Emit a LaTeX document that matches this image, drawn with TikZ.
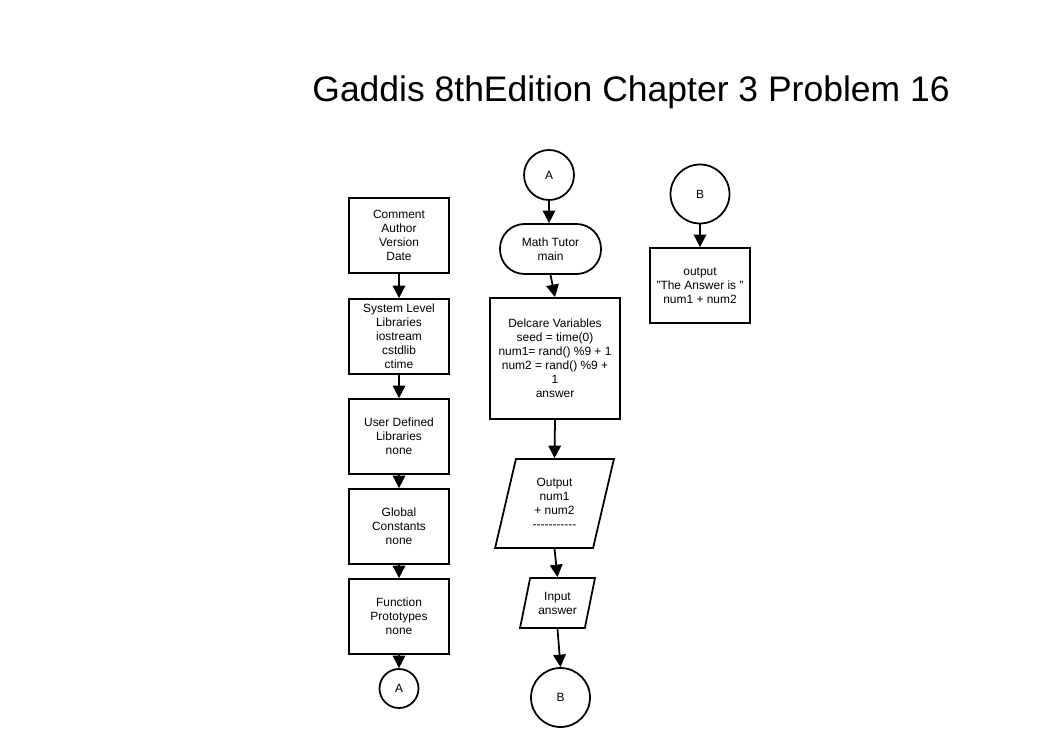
\documentclass[tikz,border=0pt]{standalone}
\usepackage{fontspec}
\setmainfont{Liberation Sans}
\usetikzlibrary{arrows.meta,shapes.geometric}
\tikzset{
    base/.style={font=\fontsize{6.8}{8}\selectfont, align=center,
    line width=1pt, inner sep=1pt},
    procbox/.style={base, draw, rectangle},
    terminal/.style={base, draw, rounded corners=0.49cm},
    connector/.style={base, draw, circle, inner sep=0pt},
    iobox/.style={base, draw, trapezium, trapezium stretches=true},
    flow/.style={line width=1pt, -{Triangle[width=0.25cm,length=0.25cm]}},
}
\begin{document}
\begin{tikzpicture}[x=0.02cm, y=-0.02cm]
            \useasboundingbox[fill=white] (0,0) rectangle (1050,749);
            % --- title ---
            \node[font=\fontsize{20.2}{24}\selectfont] (title) at (631,92) {Gaddis 8thEdition Chapter 3 Problem 16};
            % --- left column ---
            \node[procbox, minimum width=2cm, minimum height=1.5cm] (cmt) at (399,235.5) {Comment\\Author\\Version\\Date};
            \node[procbox, minimum width=2cm, minimum height=1.5cm] (syslib) at (399,336.5) {System Level\\Libraries\\iostream\\cstdlib\\ctime};
            \node[procbox, minimum width=2cm, minimum height=1.5cm] (usrlib) at (399,436.5) {User Defined\\Libraries\\none};
            \node[procbox, minimum width=2cm, minimum height=1.5cm] (glob) at (399,526.5) {Global\\Constants\\none};
            \node[procbox, minimum width=2cm, minimum height=1.5cm] (proto) at (399,616.5) {Function\\Prototypes\\none};
            \node[connector, minimum size=0.78cm] (conAa) at (399,688.5) {A};
            \draw[flow] (cmt) -- (syslib);
            \draw[flow] (syslib) -- (usrlib);
            \draw[flow] (usrlib) -- (glob);
            \draw[flow] (glob) -- (proto);
            \draw[flow] (proto) -- (conAa);
            % --- middle column ---
            \node[connector, minimum size=1cm] (conAb) at (549,175) {A};
            \node[terminal, minimum width=2.02cm, minimum height=1cm] (mainT) at (550.5,249) {Math Tutor\\main};
            \node[procbox, minimum width=2.6cm, minimum height=2.42cm] (decl) at (555,358.5) {Delcare Variables\\seed = time(0)\\num1= rand() \%9 + 1\\num2 = rand() \%9 +\\1\\answer};
            \node[iobox, minimum width=2.38cm, minimum height=1.78cm,
                trapezium left angle=76.7, trapezium right angle=103.3] (outp) at (554.5,503.5) {Output\\num1\\ + num2\\-{}-{}-{}-{}-{}-{}-{}-{}-{}-{}-};
            \node[iobox, minimum width=1.5cm, minimum height=1cm,
                trapezium left angle=73.3, trapezium right angle=106.7] (inp) at (557.5,603) {Input\\answer};
            \node[connector, minimum size=1.18cm] (conBa) at (560.5,697.5) {B};
            \draw[flow] (conAb) -- (conAb |- mainT.north);
            \draw[flow] (mainT.south) -- (decl.north);
            \draw[flow] (decl.south) -- (outp.north);
            \draw[flow] (outp.south) -- (inp.north);
            \draw[flow] (inp.south) -- (conBa.north);
            % --- right column ---
            \node[connector, minimum size=1.18cm] (conBb) at (700,194) {B};
            \node[procbox, minimum width=2cm, minimum height=1.5cm] (ans) at (700,285.5) {output\\"The Answer is "\\num1 + num2};
            \draw[flow] (conBb) -- (ans);
        \end{tikzpicture}
\end{document}
